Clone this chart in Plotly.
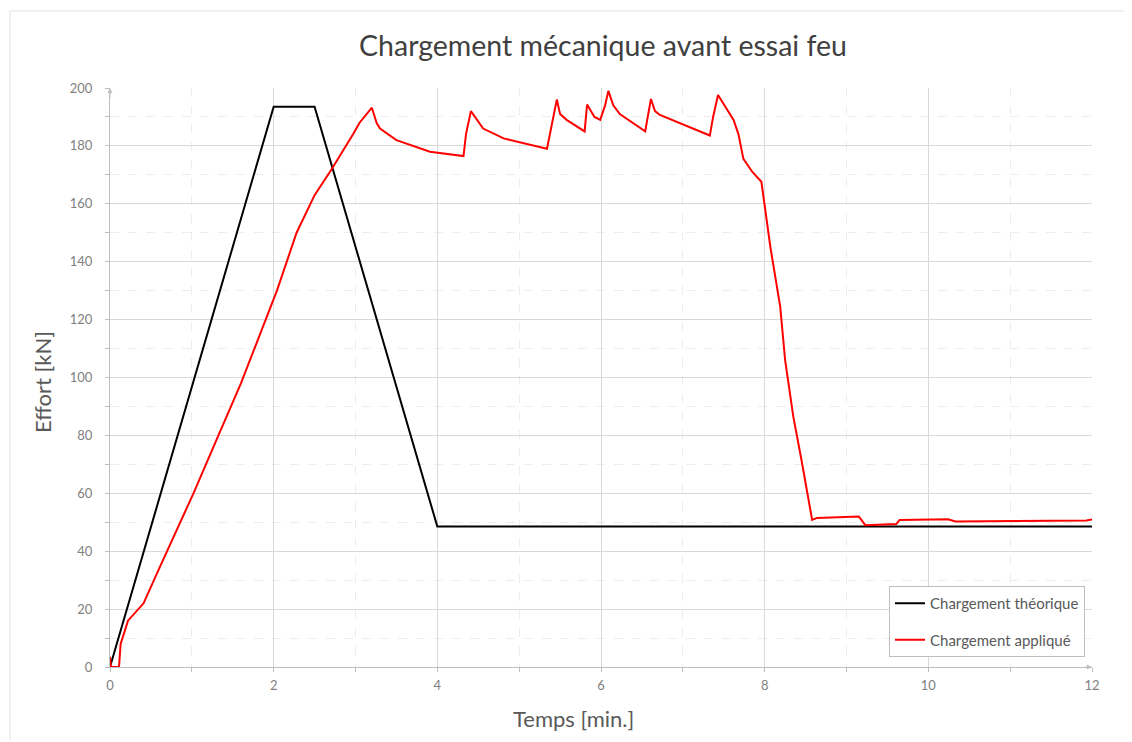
import plotly.graph_objects as go

# ---- data ----
t_theo = [0, 2.0, 2.5, 4.0, 12.0]
f_theo = [0, 193.5, 193.5, 48.5, 48.5]

t_app = [0.0, 0.01, 0.11, 0.13, 0.22, 0.41, 0.61, 1.02, 1.30, 1.60, 2.04, 2.28, 2.50, 2.71,
         2.97, 3.05, 3.20, 3.26, 3.30, 3.50, 3.91, 4.32, 4.35, 4.41, 4.56, 4.81, 5.34, 5.39,
         5.46, 5.50, 5.58, 5.80, 5.83, 5.92, 5.99, 6.05, 6.09, 6.15, 6.23, 6.54, 6.61, 6.66,
         6.72, 7.33, 7.37, 7.43, 7.55, 7.62, 7.68, 7.74, 7.85, 7.96, 8.07, 8.19, 8.25, 8.35,
         8.45, 8.58, 8.64, 9.15, 9.23, 9.61, 9.65, 10.24, 10.33, 11.93, 12.0]
f_app = [3.5, 0.0, 0.0, 8.0, 16.0, 22.0, 34.6, 60.0, 78.4, 98.0, 130.0, 150.0, 163.0, 172.0,
         184.0, 188.0, 193.2, 187.8, 186.0, 182.0, 178.0, 176.5, 184.0, 192.0, 186.0, 182.6, 179.0, 186.0,
         196.0, 191.0, 189.0, 185.0, 194.3, 190.0, 189.0, 194.0, 199.0, 194.0, 191.0, 185.0, 196.2, 192.0,
         190.7, 183.6, 190.0, 197.6, 192.0, 189.0, 184.0, 175.5, 171.0, 167.6, 145.0, 124.5, 106.0, 86.5,
         71.5, 50.8, 51.5, 52.0, 49.0, 49.4, 50.8, 51.0, 50.3, 50.6, 51.0]

title_text = "Chargement mécanique avant essai feu"
x_title = "Temps [min.]"
y_title = "Effort [kN]"
x_ticks = [0, 2, 4, 6, 8, 10, 12]
y_ticks = [0, 20, 40, 60, 80, 100, 120, 140, 160, 180, 200]

FONT = "Lato, 'Open Sans', sans-serif"
GRID = "#d9d9d9"
AXIS = "#bfbfbf"
TICKC = "#7f7f7f"

fig = go.Figure()
fig.add_trace(go.Scatter(x=t_theo, y=f_theo, mode="lines", name="Chargement théorique",
                         line=dict(color="#000000", width=2), legendgroup="a"))
fig.add_trace(go.Scatter(x=t_app, y=f_app, mode="lines", name="Chargement appliqué",
                         line=dict(color="#ff0000", width=2), legendgroup="b"))

# page body adds an 8px offset; target screen pixels are corrected by OFF
OFF = 8
W, H = 1124, 734
L, R, T, B = 110 - OFF, 1092 - OFF, 88 - OFF, 667 - OFF


def px_x(px):
    return (px - OFF - L) / (R - L)


def px_y(py):
    return (B - (py - OFF)) / (B - T)


fig.update_layout(
    width=W, height=H,
    margin=dict(l=L, r=W - R, t=T, b=H - B),
    paper_bgcolor="white", plot_bgcolor="white",
    font=dict(family=FONT, color="#595959"),
    title=dict(text=title_text, x=px_x(603), xref="paper", xanchor="center",
               y=1 - (46 - OFF) / H, yanchor="middle",
               font=dict(family=FONT, size=28.5, color="#404040")),
    showlegend=True,
    legend=dict(x=px_x(1085), xanchor="right", y=px_y(657), yanchor="bottom",
                bgcolor="white", bordercolor="#bfbfbf", borderwidth=1,
                font=dict(family=FONT, size=15, color="#595959"),
                traceorder="grouped", tracegroupgap=14, itemwidth=30),
    xaxis=dict(range=[0, 12], tickvals=x_ticks, ticktext=[str(v) for v in x_ticks],
               showgrid=True, gridcolor=GRID, gridwidth=1,
               showline=True, linecolor=AXIS, linewidth=1, zeroline=False,
               ticks="", ticklabelstandoff=6,
               tickfont=dict(family=FONT, size=13, color=TICKC),
               minor=dict(dtick=1, tick0=0, showgrid=True, gridcolor="#ededed", griddash="dash",
                          ticks="outside", ticklen=4, tickcolor=AXIS)),
    yaxis=dict(range=[0, 200], tickvals=y_ticks, ticktext=[str(v) for v in y_ticks],
               showgrid=True, gridcolor=GRID, gridwidth=1,
               showline=True, linecolor=AXIS, linewidth=1, zeroline=False,
               ticks="", ticklabelstandoff=14,
               tickfont=dict(family=FONT, size=13, color=TICKC),
               minor=dict(dtick=10, tick0=0, showgrid=True, gridcolor="#ededed", griddash="dash",
                          ticks="outside", ticklen=4, tickcolor=AXIS)),
)

# axis titles
fig.add_annotation(text=x_title, xref="paper", yref="paper",
                   x=px_x(573), y=px_y(718), xanchor="center", yanchor="middle",
                   showarrow=False, font=dict(family=FONT, size=22, color="#595959"))
fig.add_annotation(text=y_title, xref="paper", yref="paper",
                   x=px_x(42), y=px_y(382), xanchor="center", yanchor="middle", textangle=-90,
                   showarrow=False, font=dict(family=FONT, size=22, color="#595959"))

# axis arrowheads
fig.add_annotation(x=0, y=200, ax=0, ay=196, xref="x", yref="y", axref="x", ayref="y",
                   text="", showarrow=True, arrowhead=2, arrowsize=1, arrowwidth=1, arrowcolor=AXIS)
fig.add_annotation(x=12, y=0, ax=11.9, ay=0, xref="x", yref="y", axref="x", ayref="y",
                   text="", showarrow=True, arrowhead=2, arrowsize=1, arrowwidth=1, arrowcolor=AXIS)

# outer frame (top and left edges visible)
fx0 = px_x(10)
fy1 = px_y(11)
fig.add_shape(type="line", xref="paper", yref="paper", x0=fx0, x1=px_x(1131),
              y0=fy1, y1=fy1, line=dict(color="#e3e3e3", width=1))
fig.add_shape(type="line", xref="paper", yref="paper", x0=fx0, x1=fx0,
              y0=px_y(741), y1=fy1, line=dict(color="#e3e3e3", width=1))

fig.write_html("out.html")
